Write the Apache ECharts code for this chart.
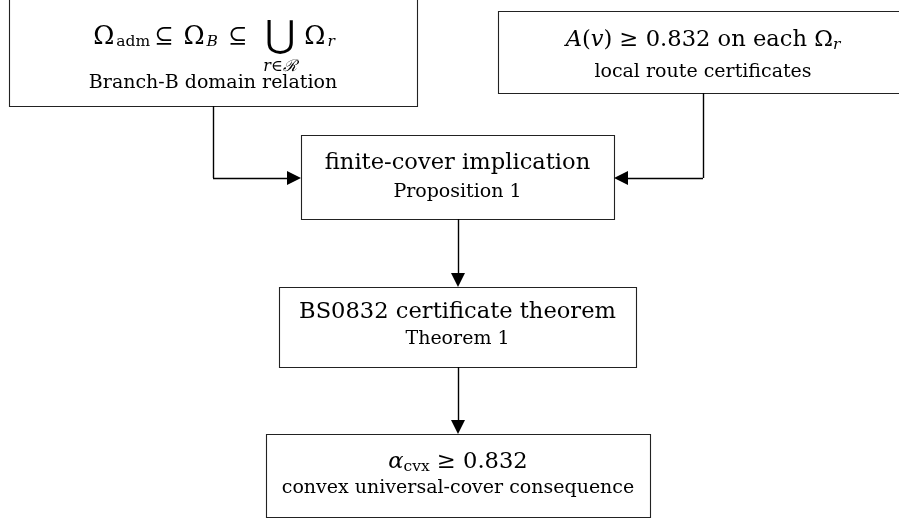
<!DOCTYPE html>
<html>
<head>
<meta charset="utf-8">
<script src="https://cdn.jsdelivr.net/npm/echarts@6/dist/echarts.min.js"></script>
<style>
  html, body { margin: 0; padding: 0; background: #fff; }
  #main { width: 899px; height: 523px; }
</style>
</head>
<body>
<div id="main"></div>
<script>
// boxes of the flow, in page units (x right, y down)
const boxes = ['domain', 'routes', 'cover', 'theorem', 'consequence']
const boxLeft = [9, 498, 301, 279, 266]
const boxTop = [-15, 11, 135, 287, 434]
const boxRight = [417, 908, 614, 636, 650]
const boxBottom = [106, 93, 219, 367, 517]
const headings = [
  '{O|Ω}{sA|adm}{op|⊆}{O|Ω}{siB|B}{op2|⊆}{u|⋃}{O|Ω}{si|r}',
  '{i|A}{t|(}{i|v}{t|) ≥ 0.832 on each Ω}{si|r}',
  '{t|finite-cover implication}',
  '{t|BS0832 certificate theorem}',
  '{i|α}{s|cvx}{t| ≥ 0.832}',
]
const headingY = [37, 40, 163, 312, 462]
const notes = [
  'Branch-B domain relation',
  'local route certificates',
  'Proposition 1',
  'Theorem 1',
  'convex universal-cover consequence',
]
const noteY = [83, 72, 192, 339, 488]
// index set under the big union
const underText = 'r∈ℛ'
const underPos = [280, 67]

// arrows: polylines from box to box, the last point is the arrow tip
const edges = [
  [[213, 106], [213, 178], [301, 178]],
  [[703, 93], [703, 178], [614, 178]],
  [[458, 219], [458, 287]],
  [[458, 367], [458, 434]],
]
const headLen = 14

const plainSegs = []
const arrowSegs = []
edges.forEach(e => {
  for (let k = 0; k < e.length - 2; k++) plainSegs.push({ coords: [e[k], e[k + 1]] })
  const a = e[e.length - 2]
  const b = e[e.length - 1]
  const d = Math.hypot(b[0] - a[0], b[1] - a[1])
  const back = headLen / 2 / d
  arrowSegs.push({ coords: [a, [b[0] - (b[0] - a[0]) * back, b[1] - (b[1] - a[1]) * back]] })
})

const serif = '"DejaVu Serif", "Liberation Serif", serif'
const rich = {
  t: { fontSize: 22.6, fontFamily: serif, color: '#000' },
  i: { fontSize: 22.6, fontFamily: serif, fontStyle: 'italic', color: '#000' },
  s: { fontSize: 15.5, fontFamily: serif, color: '#000', padding: [10, 0, 0, 0] },
  si: { fontSize: 15.5, fontFamily: serif, fontStyle: 'italic', color: '#000', padding: [10, 0, 0, 0] },
  // display formula of the first box
  O: { fontSize: 25.5, fontFamily: serif, color: '#000', padding: [0, 2, 0, 2] },
  sA: { fontSize: 15.5, fontFamily: serif, color: '#000', padding: [10, 4, 0, 0] },
  op: { fontSize: 23, fontFamily: serif, color: '#000', padding: [0, 8, 0, 0] },
  op2: { fontSize: 23, fontFamily: serif, color: '#000', padding: [0, 17, 0, 10] },
  siB: { fontSize: 15.5, fontFamily: serif, fontStyle: 'italic', color: '#000', padding: [10, 0, 0, 0] },
  u: { fontSize: 37, fontFamily: serif, color: '#000', padding: [0, 7, 0, 1] },
}

const chart = echarts.init(document.getElementById('main'))

const option = {
  animation: false,
  grid: { left: 0, right: 0, top: 0, bottom: 0 },
  xAxis: { type: 'value', min: 0, max: 899, show: false },
  yAxis: { type: 'value', min: 0, max: 523, inverse: true, show: false },
  series: [
    {
      type: 'custom',
      coordinateSystem: 'cartesian2d',
      data: boxes.map((b, i) => [boxLeft[i], boxTop[i], boxRight[i], boxBottom[i], headingY[i], noteY[i]]),
      renderItem: (params, api) => {
        const i = params.dataIndex
        const tl = api.coord([api.value(0), api.value(1)])
        const br = api.coord([api.value(2), api.value(3)])
        const cx = (tl[0] + br[0]) / 2
        const hy = api.coord([0, api.value(4)])[1]
        const ny = api.coord([0, api.value(5)])[1]
        const children = [
          {
            type: 'rect',
            shape: { x: tl[0] + 0.5, y: tl[1] + 0.5, width: br[0] - tl[0], height: br[1] - tl[1] },
            style: { fill: '#fff', stroke: '#222', lineWidth: 1.1 },
          },
          {
            type: 'text',
            style: {
              text: headings[i], x: cx, y: hy, align: 'center', verticalAlign: 'middle', rich,
            },
          },
          {
            type: 'text',
            style: {
              text: notes[i], x: cx, y: ny, align: 'center', verticalAlign: 'middle',
              fontSize: 19, fontFamily: serif, fill: '#000',
            },
          },
        ]
        if (i === 0) {
          const p = api.coord(underPos)
          children.push({
            type: 'text',
            style: {
              text: underText, x: p[0], y: p[1], align: 'center', verticalAlign: 'middle',
              fontSize: 16, fontFamily: serif, fontStyle: 'italic', fill: '#000',
            },
          })
        }
        return { type: 'group', children }
      },
      z: 2,
    },
    {
      type: 'lines',
      coordinateSystem: 'cartesian2d',
      symbol: 'none',
      lineStyle: { color: '#000', width: 1.4, opacity: 1 },
      data: plainSegs,
      z: 3,
    },
    {
      type: 'lines',
      coordinateSystem: 'cartesian2d',
      symbol: ['none', 'triangle'],
      symbolSize: [10, headLen],
      lineStyle: { color: '#000', width: 1.4, opacity: 1 },
      itemStyle: { color: '#000' },
      data: arrowSegs,
      z: 3,
    },
  ],
}

chart.setOption(option)
</script>
</body>
</html>
